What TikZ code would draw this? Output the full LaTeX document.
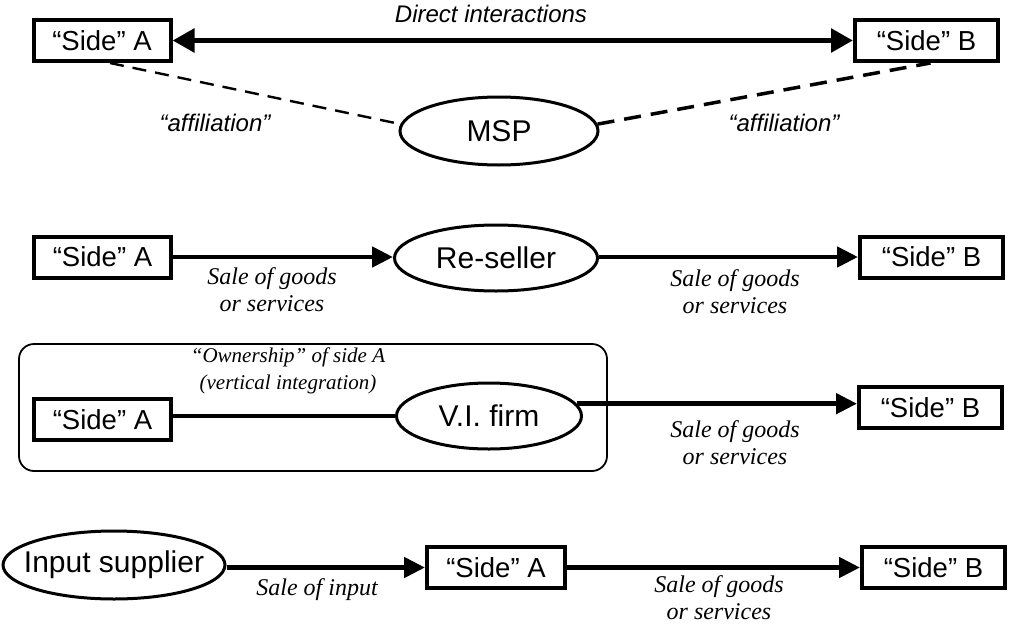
\documentclass[tikz,border=0pt]{standalone}
\usepackage{fontspec}
\setmainfont{Liberation Serif}
\setsansfont{Liberation Sans}
\usetikzlibrary{arrows.meta,shapes.geometric}
\begin{document}
\begin{tikzpicture}[x=1pt,y=-1pt,
  sidebox/.style={draw,line width=4pt,inner sep=0pt,minimum height=41pt,minimum width=137pt,font=\sffamily\fontsize{27.5}{30}\selectfont},
  party/.style={draw,ellipse,line width=3pt,inner sep=0pt,font=\sffamily\fontsize{30}{33}\selectfont},
  flow/.style={line width=4.8pt,-{Triangle[length=21pt,width=20pt]}},
  lab/.style={font=\itshape\fontsize{24}{27}\selectfont,align=center,inner sep=0pt},
  slab/.style={font=\sffamily\itshape\fontsize{24}{28}\selectfont,inner sep=0pt},
]
\useasboundingbox (0,0) rectangle (1009,624);

% Row 1
\node[sidebox] (sa1) at (102,40.5) {“Side” A};
\node[sidebox,minimum width=143pt] (sb1) at (926.5,40.5) {“Side” B};
\node[party,minimum width=198pt,minimum height=68pt] (msp) at (499,131) {MSP};
\draw[line width=5.5pt,{Triangle[length=22pt,width=23pt]}-{Triangle[length=22pt,width=23pt]}] (sa1) -- (sb1);
\node[slab] (di) at (491,14) {Direct interactions};
\draw[line width=2.4pt,dash pattern=on 14pt off 9pt] ([xshift=8pt]sa1.south) -- (msp.176);
\draw[line width=3.5pt,dash pattern=on 17pt off 10pt] (msp.4) -- ([xshift=4pt]sb1.south);
\node[slab] (af1) at (215,123) {“affiliation”};
\node[slab] (af2) at (784,123) {“affiliation”};

% Row 2
\node[sidebox] (sa2) at (102.5,257) {“Side” A};
\node[sidebox,minimum width=143pt] (sb2) at (931.5,257) {“Side” B};
\node[party,minimum width=203pt,minimum height=66pt] (rs) at (496,258) {Re-seller};
\draw[flow] (sa2) -- (sa2 -| rs.west);
\draw[flow] (rs.east |- sb2) -- (sb2);
\node[lab] (l2a) at (272,290) {Sale of goods\\or services};
\node[lab] (l2b) at (735,292) {Sale of goods\\or services};

% Row 3
\node[draw,line width=1.8pt,rounded corners=15pt,minimum width=588pt,minimum height=127pt,inner sep=0pt] (vibox) at (313,407.5) {};
\node[sidebox] (sa3) at (102.5,419.5) {“Side” A};
\node[party,minimum width=185pt,minimum height=66pt] (vi) at (489,416) {V.I. firm};
\node[sidebox,minimum width=143pt] (sb3) at (930.5,407.5) {“Side” B};
\draw[line width=4.8pt] (sa3.east |- vi) -- (vi);
\draw[flow] (vi.8) -- (vi.8 -| sb3.west);
\node[lab,font=\itshape\fontsize{21}{27}\selectfont] (own) at (288,371) {“Ownership” of side A\\(vertical integration)};
\node[lab] (l3) at (735,443) {Sale of goods\\or services};

% Row 4
\node[party,inner xsep=-13pt,minimum width=222pt,minimum height=68pt] (is) at (114,565) {Input supplier};
\node[sidebox,minimum width=138pt] (sa4) at (496,567.5) {“Side” A};
\node[sidebox,minimum width=143pt] (sb4) at (933.5,567.5) {“Side” B};
\draw[flow] (is.east |- sa4) -- (sa4);
\draw[flow] (sa4) -- (sb4);
\node[lab] (l4a) at (317,590) {Sale of input};
\node[lab] (l4b) at (719,598) {Sale of goods\\or services};
\end{tikzpicture}
\end{document}
